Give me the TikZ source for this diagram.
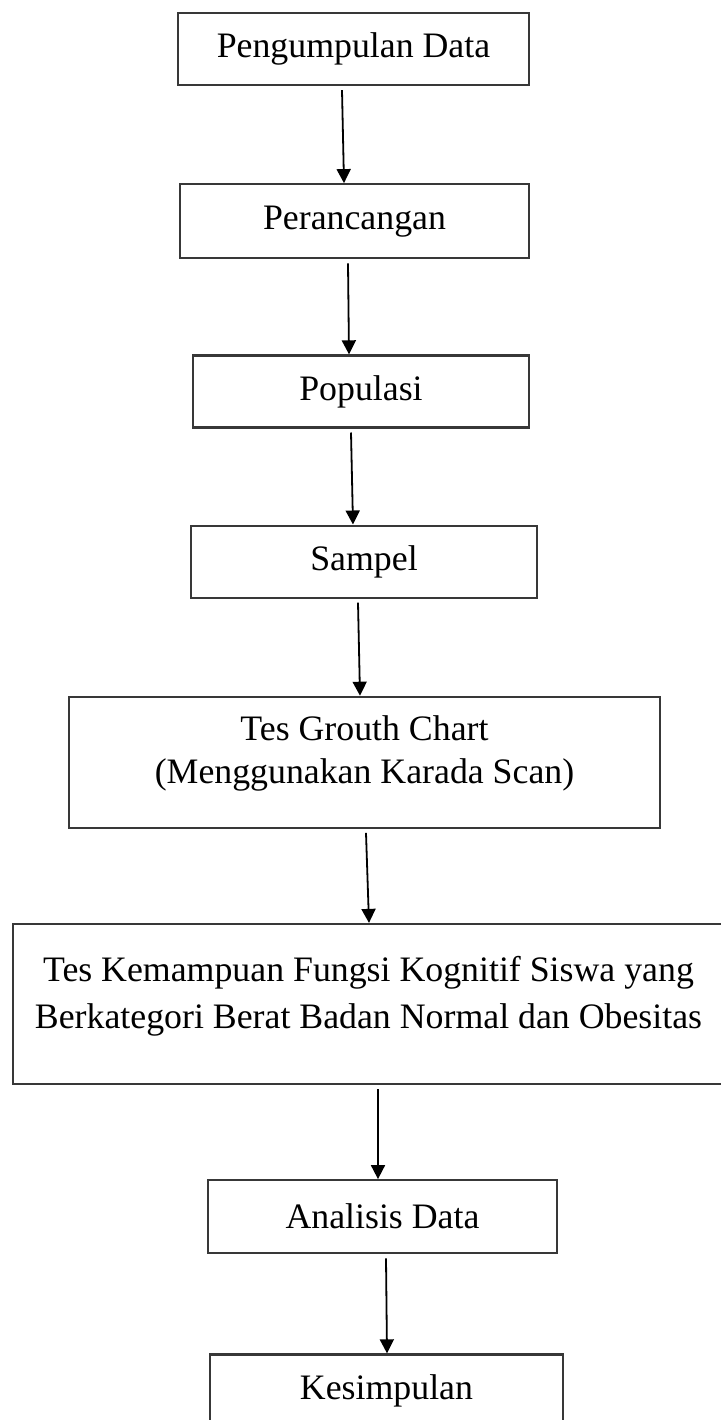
\documentclass[tikz,border=0pt]{standalone}
\usepackage{fontspec}
\setmainfont{Liberation Serif}
\usetikzlibrary{arrows.meta, positioning}

\begin{document}
\begin{tikzpicture}[font=\fontsize{17.9}{21.5}\selectfont,
  stage/.style={draw=black!78, line width=1.1pt, minimum height=36pt, align=center, inner sep=2pt},
  flow/.style={-{Triangle[length=7pt, width=7pt]}, line width=0.9pt}]
\useasboundingbox (0,0) rectangle (360.5pt,-710pt);
\node[stage, minimum width=175.5pt] (kumpul) at (176.75pt,-24.5pt) {Pengumpulan Data};
\node[stage, minimum width=174.5pt, minimum height=37pt, below=48.5pt of kumpul, xshift=0.5pt] (rancang) {Perancangan};
\node[stage, minimum width=168pt, below=47.5pt of rancang, xshift=3.25pt] (populasi) {Populasi};
\node[stage, minimum width=173pt, below=48pt of populasi, xshift=1.5pt] (sampel) {Sampel};
\node[stage, minimum width=295.5pt, minimum height=65.5pt, below=48.5pt of sampel, xshift=0.25pt] (growth)
  {Tes Grouth Chart\\(Menggunakan Karada Scan)\rule[-12.3pt]{0pt}{12.3pt}};
\node[stage, minimum width=355.5pt, minimum height=80pt, below=47pt of growth, xshift=2pt] (kognitif)
  {Tes Kemampuan Fungsi Kognitif Siswa yang\\[2pt]Berkategori Berat Badan Normal dan Obesitas\rule[-11.9pt]{0pt}{11.9pt}};
\node[stage, minimum width=174.5pt, minimum height=36.5pt, below=47pt of kognitif, xshift=7pt] (analisis) {Analisis Data};
\node[stage, minimum width=176.5pt, minimum height=36.5pt, below=49.5pt of analisis, xshift=2pt] (simpul) {Kesimpulan};

\draw[flow] ([shift={(-5.75pt,-2pt)}]kumpul.south) -- ([xshift=-5.25pt]rancang.north);
\draw[flow] ([shift={(-3.25pt,-2pt)}]rancang.south) -- ([xshift=-6pt]populasi.north);
\draw[flow] ([shift={(-5pt,-2pt)}]populasi.south) -- ([xshift=-5.5pt]sampel.north);
\draw[flow] ([shift={(-3pt,-2pt)}]sampel.south) -- ([xshift=-2.25pt]growth.north);
\draw[flow] ([shift={(0.75pt,-2pt)}]growth.south) -- ([xshift=0.25pt]kognitif.north);
\draw[flow] ([shift={(4.75pt,-2pt)}]kognitif.south) -- ([xshift=-2.25pt]analisis.north);
\draw[flow] ([shift={(1.75pt,-2pt)}]analisis.south) -- ([xshift=0.25pt]simpul.north);
\end{tikzpicture}
\end{document}
